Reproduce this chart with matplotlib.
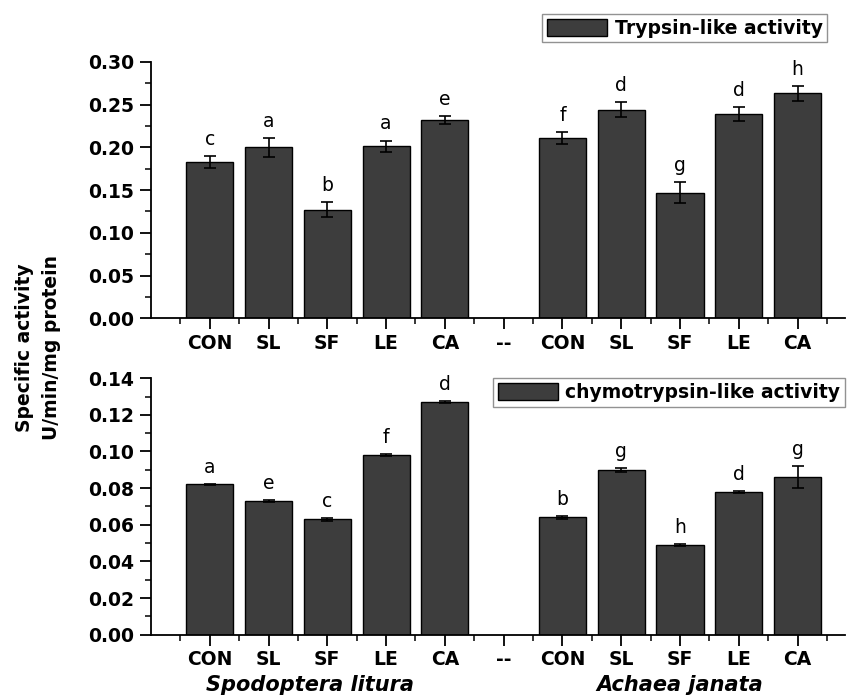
import matplotlib
matplotlib.use("Agg")
import matplotlib.pyplot as plt
import numpy as np
from matplotlib.patches import Patch
from matplotlib.ticker import MultipleLocator, FixedLocator, FormatStrFormatter

plt.rcParams['font.family'] = ['DejaVu Sans']

categories = ["CON", "SL", "SF", "LE", "CA", "--", "CON", "SL", "SF", "LE", "CA"]
positions = [1, 2, 3, 4, 5, 7, 8, 9, 10, 11]  # bar positions (6 is the '--' gap)

trypsin = [0.183, 0.200, 0.127, 0.201, 0.232, 0.211, 0.244, 0.147, 0.239, 0.263]
trypsin_err = [0.007, 0.011, 0.009, 0.007, 0.005, 0.007, 0.009, 0.012, 0.008, 0.009]
trypsin_letters = ["c", "a", "b", "a", "e", "f", "d", "g", "d", "h"]

chymo = [0.082, 0.073, 0.063, 0.098, 0.127, 0.064, 0.090, 0.049, 0.078, 0.086]
chymo_err = [0.0003, 0.0003, 0.0008, 0.0005, 0.0003, 0.0006, 0.0012, 0.0007, 0.0005, 0.006]
chymo_letters = ["a", "e", "c", "f", "d", "b", "g", "h", "d", "g"]

species = ["Spodoptera litura", "Achaea janata"]

bar_color = "#3d3d3d"
FS = 13.5

fig = plt.figure(figsize=(8.48, 6.95), dpi=100)
ax1 = fig.add_axes([0.178, 0.542, 0.818, 0.369])
ax2 = fig.add_axes([0.178, 0.0868, 0.818, 0.369])

def style(ax, ymax, ymaj, ymin):
    for s in ["top", "right"]:
        ax.spines[s].set_visible(False)
    for s in ["left", "bottom"]:
        ax.spines[s].set_linewidth(1.3)
    ax.set_xlim(0, 11.8)
    ax.set_ylim(0, ymax)
    ax.xaxis.set_major_locator(FixedLocator(list(range(1, 12))))
    ax.set_xticklabels(categories, fontsize=FS, fontweight="bold")
    ax.xaxis.set_minor_locator(FixedLocator([i + 0.5 for i in range(0, 12)]))
    ax.yaxis.set_major_locator(MultipleLocator(ymaj))
    ax.yaxis.set_minor_locator(MultipleLocator(ymin))
    ax.yaxis.set_major_formatter(FormatStrFormatter("%.2f"))
    ax.tick_params(axis="both", which="major", direction="out", length=8, width=1.3, labelsize=FS)
    ax.tick_params(axis="both", which="minor", direction="out", length=4, width=1.1)
    ax.tick_params(axis="x", which="major", pad=3)
    ax.tick_params(axis="y", which="major", pad=4)

def draw(ax, vals, errs, letters):
    ax.bar(positions, vals, width=0.8, color=bar_color, edgecolor="black", linewidth=1.0, zorder=2)
    ax.errorbar(positions, vals, yerr=errs, fmt="none", ecolor="black", elinewidth=1.2,
                capsize=4, capthick=1.2, zorder=3)
    for x, v, e, t in zip(positions, vals, errs, letters):
        ax.annotate(t, (x, v + e), xytext=(0, 8), textcoords="offset points",
                    ha="center", va="baseline", fontsize=FS)

style(ax1, 0.30, 0.05, 0.025)
style(ax2, 0.14, 0.02, 0.01)
for ax in (ax1, ax2):
    for lab in ax.get_yticklabels():
        lab.set_fontweight("bold")

draw(ax1, trypsin, trypsin_err, trypsin_letters)
draw(ax2, chymo, chymo_err, chymo_letters)

leg1 = ax1.legend(handles=[Patch(facecolor=bar_color, edgecolor="black", label="Trypsin-like activity")],
                  loc="upper right", bbox_to_anchor=(0.975, 1.187), frameon=True, fancybox=False,
                  prop={"weight": "bold", "size": 13.5}, handlelength=3.2, handleheight=1.05,
                  borderpad=0.25, handletextpad=0.4, borderaxespad=0)
leg1.get_frame().set_edgecolor("#777777")
leg1.get_frame().set_linewidth(1.0)

leg2 = ax2.legend(handles=[Patch(facecolor=bar_color, edgecolor="black", label="chymotrypsin-like activity")],
                  loc="upper left", bbox_to_anchor=(0.4935, 1.0), frameon=True, fancybox=False,
                  prop={"weight": "bold", "size": 13.5}, handlelength=3.2, handleheight=1.05,
                  borderpad=0.25, handletextpad=0.4, borderaxespad=0)
leg2.get_frame().set_edgecolor("#777777")
leg2.get_frame().set_linewidth(1.0)

fig.text(38 / 848, 1 - 348 / 695, "Specific activity\nU/min/mg protein", rotation=90,
         ha="center", va="center", fontsize=FS, fontweight="bold", multialignment="center",
         linespacing=1.5)

ax2.text(2.7, -0.0275, species[0], ha="center", va="center", fontsize=15,
         fontweight="bold", fontstyle="italic", transform=ax2.transData, clip_on=False)
ax2.text(9.0, -0.0275, species[1], ha="center", va="center", fontsize=15,
         fontweight="bold", fontstyle="italic", transform=ax2.transData, clip_on=False)

fig.savefig("out.png", dpi=100)
